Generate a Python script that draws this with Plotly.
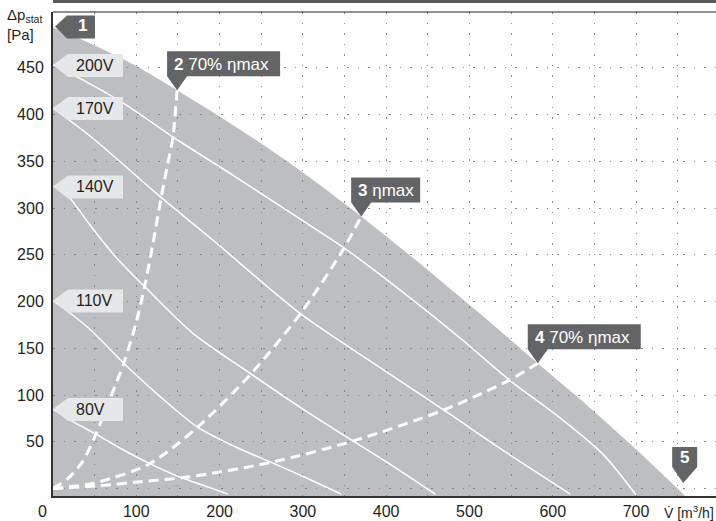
import plotly.graph_objects as go

# ---- data ----
# outer limit of the operating range (grey area)
BOUND_V = [0, 50, 100, 149, 200, 250, 300, 370, 440, 510, 582, 640, 700, 759]
BOUND_P = [493, 474, 452, 426, 398, 369, 338, 291, 241, 189, 134, 90, 42, -8]

# fan curves for the control voltages
VOLT_LABELS = ["200V", "170V", "140V", "110V", "80V"]
V200_V = [0, 40, 85, 144, 218, 292, 350, 420, 490, 548, 611, 661, 700]
V200_P = [453, 435, 412, 376, 334, 291, 257, 210, 160, 116, 74, 36, -7]
V170_V = [0, 46, 129, 193, 297, 390, 469, 545, 621]
V170_P = [407, 376, 312, 265, 187, 131, 84, 38, -6]
V140_V = [0, 10, 22, 46, 75, 110, 168, 237, 300, 360, 410, 459]
V140_P = [323, 320, 309, 280, 248, 216, 166, 123, 85, 51, 23, -6]
V110_V = [0, 20, 46, 85, 129, 173, 218, 262, 305, 346]
V110_P = [201, 188, 169, 134, 98, 66, 45, 28, 11, -6]
V80_V = [0, 25, 52, 83, 113, 153, 182, 210]
V80_P = [85, 71, 58, 42, 28, 12, 3, -6]

# efficiency system curves (dashed)
ETA70A_V = [0, 17, 35, 51, 68, 85, 100, 110, 120, 130, 138, 144, 149]
ETA70A_P = [0, 10, 28, 57, 95, 134, 178, 216, 262, 312, 348, 376, 426]
ETAMAX_V = [0, 50, 115, 174, 238, 297, 348, 370]
ETAMAX_P = [0, 6, 26, 66, 123, 187, 255, 291]
ETA70B_V = [0, 56, 113, 160, 262, 361, 469, 548, 582]
ETA70B_P = [0, 3, 8, 12, 28, 51, 84, 116, 134]

CALLOUT_NUM = ["2", "3", "4"]
CALLOUT_TXT = ["70% ηmax", "ηmax", "70% ηmax"]

X_GRID = [50, 100, 150, 200, 250, 300, 350, 400, 450, 500, 550, 600, 650, 700, 750]
X_TICKTEXT = ["", "100", "", "200", "", "300", "", "400", "", "500", "", "600", "", "700", ""]
Y_GRID = [0, 50, 100, 150, 200, 250, 300, 350, 400, 450]
Y_TICKTEXT = ["", "50", "100", "150", "200", "250", "300", "350", "400", "450"]
X_RANGE = [0, 796]
Y_RANGE = [-8, 509.7]

FONT = "Liberation Sans, Arial, sans-serif"
TXT = "#231f20"
DARK = "#636466"
LIGHT = "#e6e7e8"

fig = go.Figure()

# grey operating area
fig.add_trace(go.Scatter(x=[BOUND_V[0], BOUND_V[-1]], y=[Y_RANGE[0], Y_RANGE[0]],
                         mode="lines", line=dict(width=0), hoverinfo="skip"))
fig.add_trace(go.Scatter(x=BOUND_V, y=BOUND_P, mode="lines", fill="tonexty",
                         fillcolor="rgba(123,126,131,0.5)",
                         line=dict(width=0, shape="spline", smoothing=0.8), hoverinfo="skip"))

curves = [(V200_V, V200_P), (V170_V, V170_P), (V140_V, V140_P), (V110_V, V110_P), (V80_V, V80_P)]
for vx, vy in curves:
    fig.add_trace(go.Scatter(x=vx, y=vy, mode="lines",
                             line=dict(color="white", width=1.5, shape="spline", smoothing=0.8),
                             hoverinfo="skip"))

dashed = [(ETA70A_V, ETA70A_P), (ETAMAX_V, ETAMAX_P), (ETA70B_V, ETA70B_P)]
for vx, vy in dashed:
    fig.add_trace(go.Scatter(x=vx, y=vy, mode="lines",
                             line=dict(color="white", width=3, dash="10px,6px", shape="spline", smoothing=0.8),
                             hoverinfo="skip"))

shapes = []
annotations = []

def pix_shape(xa, ya, path, color):
    shapes.append(dict(type="path", xref="x", yref="y", xsizemode="pixel", ysizemode="pixel",
                       xanchor=xa, yanchor=ya, path=path, fillcolor=color,
                       line=dict(width=0), layer="above"))

# voltage labels (light, pointing left to the curve start)
for lab, (vx, vy) in zip(VOLT_LABELS, curves):
    pix_shape(vx[0], vy[0], "M0,0 L15,11 L70,11 L70,-12 L15,-12 Z", LIGHT)
    annotations.append(dict(x=vx[0], y=vy[0], xref="x", yref="y", text=lab, showarrow=False,
                            xanchor="left", yanchor="middle", xshift=21, yshift=0,
                            font=dict(size=16, color=TXT, family=FONT)))

# callouts 2,3,4 (dark, pointing down to the end of dashed curves)
widths = [103, 59, 103]
for num, txt, (vx, vy), w in zip(CALLOUT_NUM, CALLOUT_TXT, dashed, widths):
    pix_shape(vx[-1], vy[-1], f"M0,0 L-10,14 L-10,39 L{w},39 L{w},14 L10,14 Z", DARK)
    annotations.append(dict(x=vx[-1], y=vy[-1], xref="x", yref="y",
                            text=f"<b>{num}</b> {txt}", showarrow=False,
                            xanchor="left", yanchor="middle", xshift=-5, yshift=26,
                            font=dict(size=17, color="white", family=FONT)))

# callout 1 (top-left, pointing left)
pix_shape(BOUND_V[0], BOUND_P[0], "M2,1 L14,12 L42,12 L42,-11 L14,-11 Z", DARK)
annotations.append(dict(x=BOUND_V[0], y=BOUND_P[0], xref="x", yref="y", text="<b>1</b>",
                        showarrow=False, xanchor="center", yanchor="middle", xshift=29, yshift=2,
                        font=dict(size=17, color="white", family=FONT)))

# callout 5 (bottom-right, pointing down)
pix_shape(BOUND_V[-1], BOUND_P[-1], "M-2,13 L-13,29 L-13,49 L12,49 L12,29 Z", DARK)
annotations.append(dict(x=BOUND_V[-1], y=BOUND_P[-1], xref="x", yref="y", text="<b>5</b>",
                        showarrow=False, xanchor="center", yanchor="middle", xshift=-1, yshift=39,
                        font=dict(size=17, color="white", family=FONT)))

# frame top line and grey bar above it
shapes.append(dict(type="line", xref="paper", yref="paper", x0=0, x1=1, y0=1, y1=1,
                   line=dict(color="#222222", width=1.2), layer="above"))
shapes.append(dict(type="rect", xref="paper", yref="paper", x0=0, x1=1,
                   y0=1 + 9 / 484, y1=1 + 12.5 / 484, fillcolor="#5a5a5c",
                   line=dict(width=0), layer="above"))

# axis titles
annotations.append(dict(x=0, y=1, xref="paper", yref="paper", text="Δp<sub>stat</sub><br>[Pa]",
                        showarrow=False, xanchor="left", yanchor="top", align="left",
                        xshift=-48, yshift=8, font=dict(size=15, color=TXT, family=FONT)))
annotations.append(dict(x=1, y=0, xref="paper", yref="paper", text="V̇ [m<sup>3</sup>/h]",
                        showarrow=False, xanchor="right", yanchor="top",
                        xshift=0, yshift=-5, font=dict(size=14, color=TXT, family=FONT)))
annotations.append(dict(x=0, y=0, xref="x", yref="paper", text="0",
                        showarrow=False, xanchor="center", yanchor="top",
                        xshift=-11, yshift=-5, font=dict(size=16, color=TXT, family=FONT)))

fig.update_layout(
    width=716, height=521,
    margin=dict(l=53, r=0, t=12, b=25),
    paper_bgcolor="white", plot_bgcolor="white",
    showlegend=False,
    font=dict(family=FONT, size=16, color=TXT),
    xaxis=dict(range=X_RANGE, tickvals=X_GRID, ticktext=X_TICKTEXT, showgrid=True,
               gridcolor="#8a8a8a", griddash="1.5px,9px", gridwidth=1,
               showline=True, linecolor="#333333", linewidth=2, ticks="", zeroline=False,
               tickfont=dict(size=16, color=TXT)),
    yaxis=dict(range=Y_RANGE, tickvals=Y_GRID, ticktext=Y_TICKTEXT, showgrid=True,
               gridcolor="#8a8a8a", griddash="1.5px,9px", gridwidth=1,
               showline=True, linecolor="#333333", linewidth=2, ticks="", zeroline=False,
               ticklabelstandoff=4, tickfont=dict(size=16, color=TXT)),
    shapes=shapes,
    annotations=annotations,
)

fig.write_html("out.html", config={"displayModeBar": False},
               post_script="document.body.style.margin='0';")
